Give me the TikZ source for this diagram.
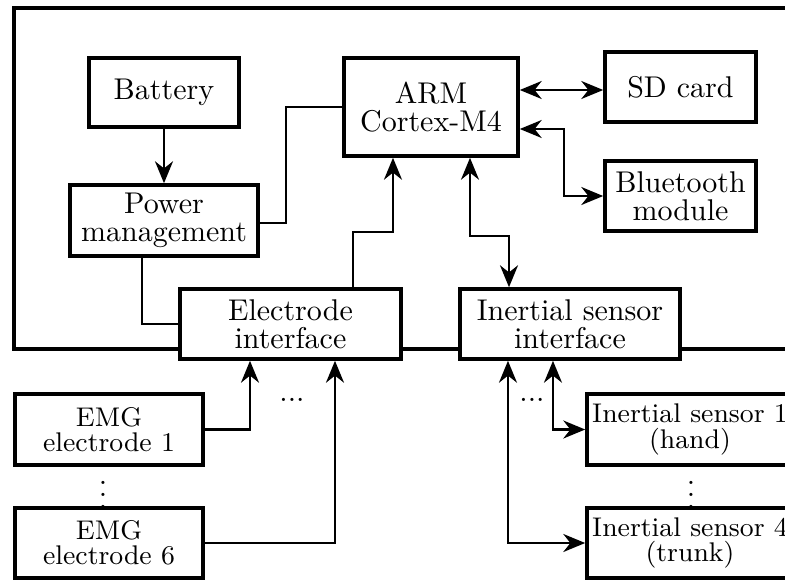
\documentclass[tikz,border=0pt]{standalone}
\usetikzlibrary{arrows.meta}
\begin{document}
\begin{tikzpicture}[x=0.33333pt,y=-0.33333pt,
  box/.style={draw,line width=1.2pt,fill=white,inner sep=0pt,align=center,font=\fontsize{10}{9.4}\selectfont},
  sbox/.style={box,font=\fontsize{9}{8.4}\selectfont},
  conn/.style={line width=0.8pt},
  arr/.style={conn,-{Stealth[length=7.3pt,width=6pt]}},
  darr/.style={conn,{Stealth[length=7.3pt,width=6pt]}-{Stealth[length=7.3pt,width=6pt]}},
  frame/.style={line width=1.6pt}]
\useasboundingbox (0,0) rectangle (785,579);
\clip (0,0) rectangle (785,579);
\draw[frame] (14,8) rectangle (820,349);
\node[box,minimum width=50pt,minimum height=23pt] (bat) at (164,92.5) {Battery};
\node[box,minimum width=62.67pt,minimum height=23.67pt] (pow) at (164,220.5) {Power\\management};
\node[box,minimum width=58pt,minimum height=32.67pt] (arm) at (431,107) {ARM\\Cortex-M4};
\node[box,minimum width=50.33pt,minimum height=23.33pt] (sd) at (680.5,87) {SD card};
\node[box,minimum width=50.33pt,minimum height=23.33pt] (bt) at (680.5,196) {Bluetooth\\module};
\node[box,minimum width=73.67pt,minimum height=23.33pt] (ei) at (290.5,324) {Electrode\\interface};
\node[box,minimum width=73.33pt,minimum height=23.33pt] (ii) at (570,324) {Inertial sensor\\interface};
\node[sbox,minimum width=62.67pt,minimum height=23.67pt] (emg1) at (109,429.5) {EMG\\electrode 1};
\node[sbox,minimum width=62.67pt,minimum height=23.33pt] (emg6) at (109,543) {EMG\\electrode 6};
\node[sbox,minimum width=68.67pt,minimum height=23.67pt] (is1) at (690,429.5) {Inertial sensor 1\\(hand)};
\node[sbox,minimum width=68.67pt,minimum height=23.33pt] (is4) at (690,543) {Inertial sensor 4\\(trunk)};
\node[inner sep=0pt] (hd1) at (292,399.5) {...};
\node[inner sep=0pt] (hd2) at (532,400) {...};
\node[inner sep=0pt] (vd1) at (103,486) {$\vdots$};
\node[inner sep=0pt] (vd2) at (691,486) {$\vdots$};
\draw[arr] (bat) -- (pow);
\draw[conn] ([yshift=-0.8pt]pow.east) -- ++(26,0) |- (arm.west);
\draw[conn] ([xshift=-7.33pt]pow.south) |- (ei.west);
\draw[arr] ([xshift=20.83pt]ei.north) -- ++(0,-55) -| ([xshift=-12.67pt]arm.south);
\draw[darr] ([xshift=13pt]arm.south) -- ++(0,78) -| ([xshift=-20.33pt]ii.north);
\draw[darr] ([yshift=5.67pt]arm.east) -- ([yshift=5.67pt]arm.east -| sd.west);
\draw[darr] ([yshift=-7.33pt]arm.east) -- ++(44,0) |- (bt.west);
\draw[arr] (emg1.east) -| ([xshift=-13.5pt]ei.south);
\draw[arr] (emg6.east) -| ([xshift=14.83pt]ei.south);
\draw[darr] ([xshift=-5.67pt]ii.south) |- (is1.west);
\draw[darr] ([xshift=-20.67pt]ii.south) |- (is4.west);
\end{tikzpicture}
\end{document}
